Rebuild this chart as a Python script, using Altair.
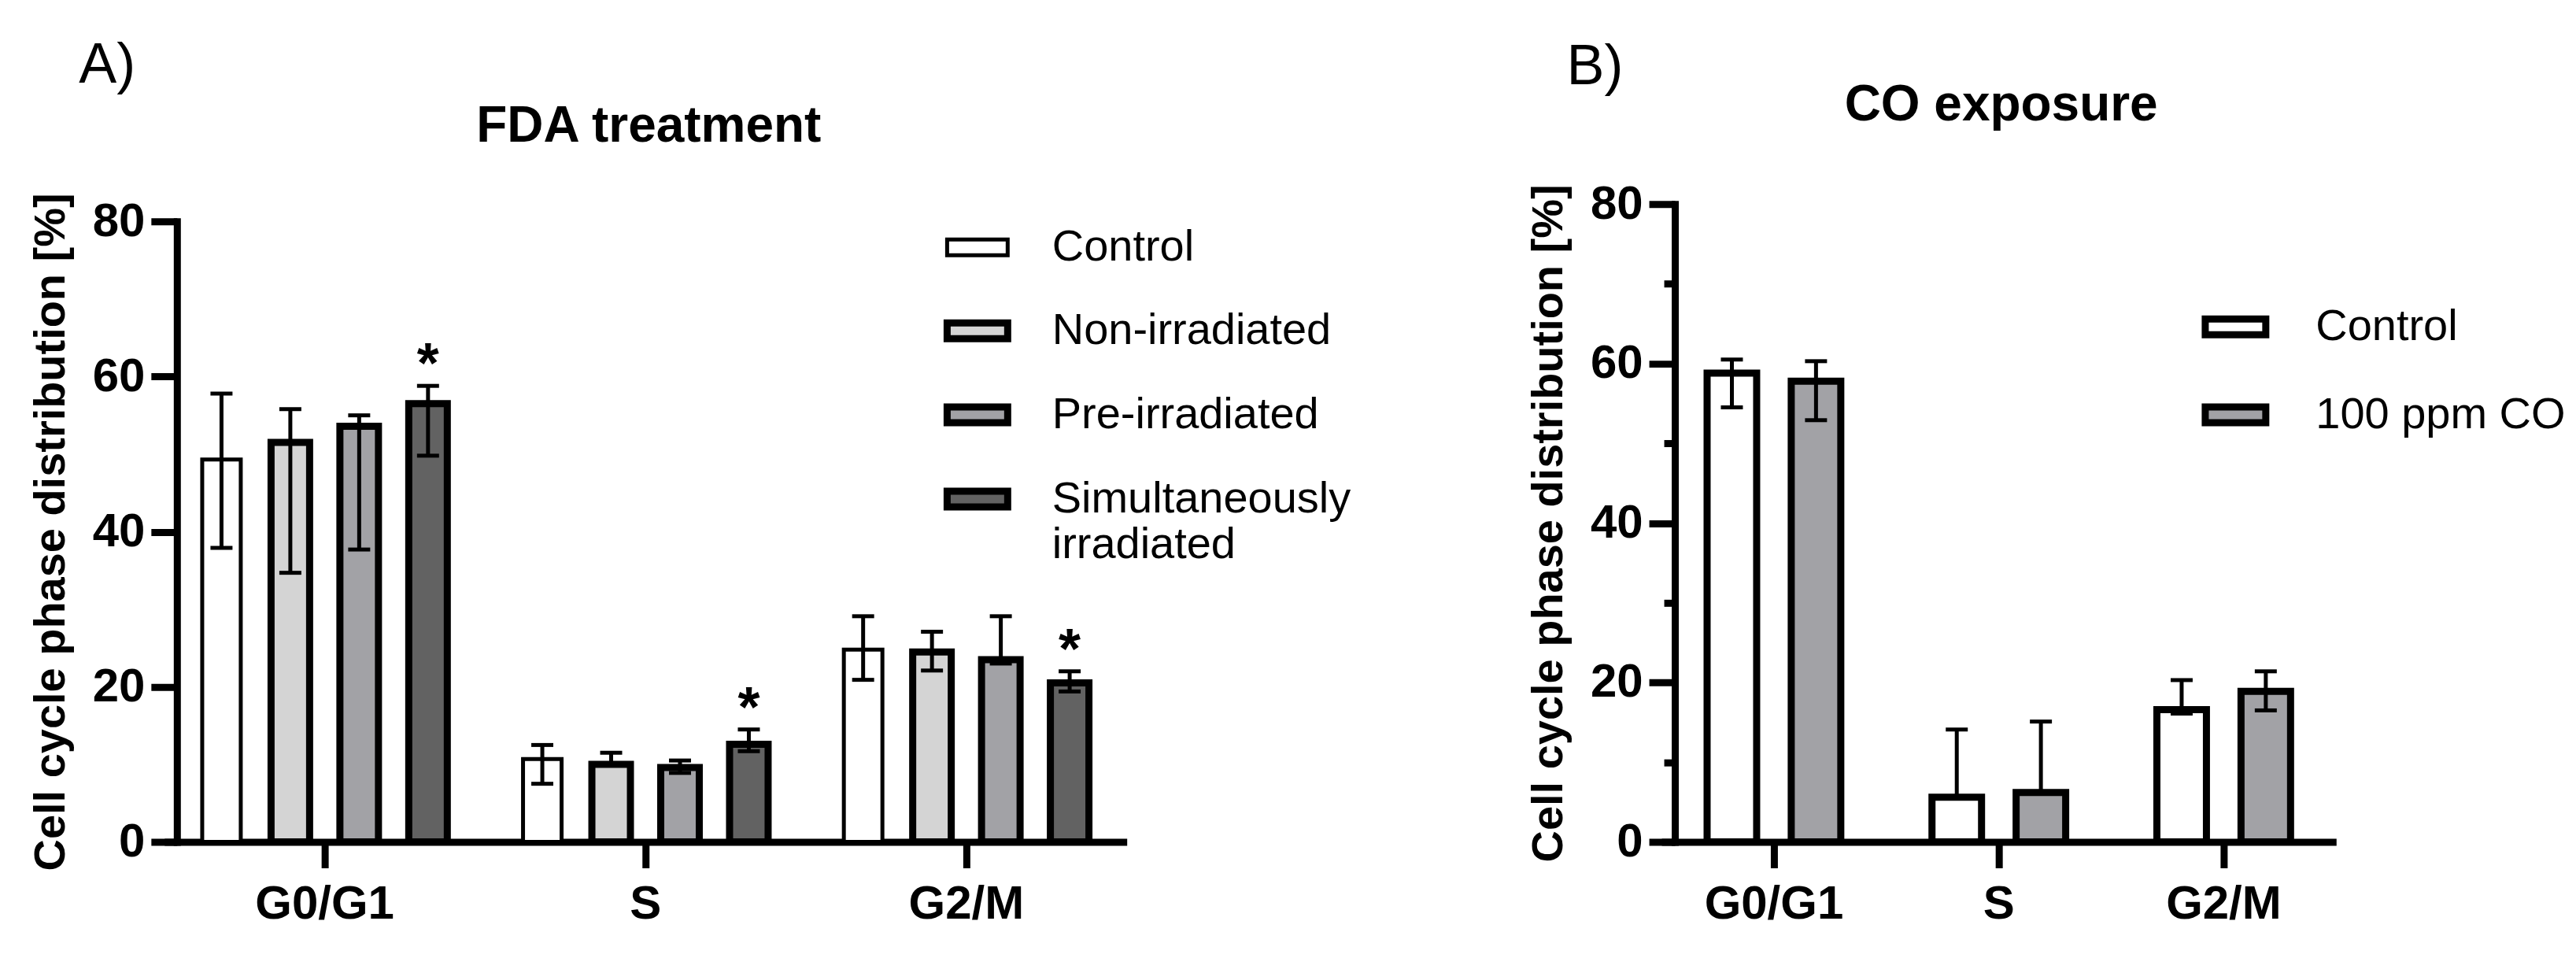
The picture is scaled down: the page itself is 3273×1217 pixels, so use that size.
import altair as alt
import pandas as pd

FONT = "Liberation Sans"

phases = ["G0/G1", "S", "G2/M"]

# ---------- Panel A: FDA treatment ----------
fda_groups = ["Control", "Non-irradiated", "Pre-irradiated", "Simultaneously irradiated"]
fda_colors = ["#ffffff", "#d4d4d4", "#a2a2a6", "#626262"]
fda_borders = [5, 9, 9, 9]
fda_control_mean = [49.3, 10.7, 24.8]
fda_control_low = [37.9, 7.5, 20.9]
fda_control_high = [57.8, 12.5, 29.1]
fda_nonirr_mean = [51.5, 10.0, 24.5]
fda_nonirr_low = [34.7, 10.0, 22.1]
fda_nonirr_high = [55.8, 11.5, 27.1]
fda_preirr_mean = [53.6, 9.6, 23.5]
fda_preirr_low = [37.7, 8.9, 23.0]
fda_preirr_high = [55.0, 10.5, 29.1]
fda_simirr_mean = [56.5, 12.6, 20.5]
fda_simirr_low = [49.8, 11.7, 19.4]
fda_simirr_high = [58.8, 14.5, 22.0]
fda_simirr_sig = ["*", "*", "*"]
no_sig = ["", "", ""]

# ---------- Panel B: CO exposure ----------
co_groups = ["Control", "100 ppm CO"]
co_colors = ["#ffffff", "#a2a2a6"]
co_borders = [9, 9]
co_control_mean = [58.8, 5.6, 16.6]
co_control_low = [54.5, 5.6, 16.1]
co_control_high = [60.5, 14.1, 20.3]
co_co_mean = [57.8, 6.2, 18.9]
co_co_low = [52.9, 6.2, 16.5]
co_co_high = [60.3, 15.1, 21.4]

y_title = "Cell cycle phase distribution [%]"


def make_df(groups, means, lows, highs, sigs):
    rows = []
    for g, m, lo, hi, s in zip(groups, means, lows, highs, sigs):
        for p, mv, lv, hv, sv in zip(phases, m, lo, hi, s):
            rows.append({"phase": p, "group": g, "mean": mv, "lo": lv, "hi": hv, "sig": sv})
    return pd.DataFrame(rows)


df_a = make_df(
    fda_groups,
    [fda_control_mean, fda_nonirr_mean, fda_preirr_mean, fda_simirr_mean],
    [fda_control_low, fda_nonirr_low, fda_preirr_low, fda_simirr_low],
    [fda_control_high, fda_nonirr_high, fda_preirr_high, fda_simirr_high],
    [no_sig, no_sig, no_sig, fda_simirr_sig],
)
df_b = make_df(
    co_groups,
    [co_control_mean, co_co_mean],
    [co_control_low, co_co_low],
    [co_control_high, co_co_high],
    [no_sig, no_sig],
)


def panel(df, groups, colors, borders, width, height, yrange, xrange, pin, pout,
          legend_x, legend_y, row_pad, label_off, title, minor, title_offset):
    xenc = alt.X(
        "phase:N", sort=phases,
        scale=alt.Scale(domain=phases, range=xrange, paddingInner=0, paddingOuter=0),
        axis=alt.Axis(title=None, labelFont=FONT, labelFontSize=60, labelFontWeight="bold",
                      labelColor="black", labelAngle=0, labelPadding=17, tickSize=33,
                      tickWidth=9, tickColor="black", domainColor="black", domainWidth=9),
    )
    xoff = alt.XOffset(
        "group:N", sort=groups,
        scale=alt.Scale(domain=groups, paddingInner=pin, paddingOuter=pout),
    )
    yscale = alt.Scale(domain=[0, 80], range=yrange, nice=False, zero=True)
    yaxis = alt.Axis(
        values=[0, 20, 40, 60, 80], title=y_title, titleFont=FONT, titleFontSize=56,
        titleFontWeight="bold", titleColor="black", titlePadding=24,
        labelFont=FONT, labelFontSize=60, labelFontWeight="bold", labelColor="black",
        labelPadding=8, tickSize=33, tickWidth=9, tickColor="black",
        domainColor="black", domainWidth=9, domainCap="square", grid=False,
        orient="left",
    )

    def legend():
        return alt.Legend(
            title=None, orient="none", legendX=legend_x, legendY=legend_y,
            symbolType="M-1,-0.26H1V0.26H-1Z", symbolSize=5929,
            symbolStrokeColor="black", symbolOpacity=1,
            labelFont=FONT, labelFontSize=56, labelColor="black", labelLimit=0,
            labelOffset=label_off, rowPadding=row_pad, padding=0, labelBaseline="middle",
            labelExpr="datum.label == 'Simultaneously irradiated' ? ['Simultaneously', 'irradiated'] : datum.label",
        )

    fill = alt.Fill("group:N", sort=groups,
                    scale=alt.Scale(domain=groups, range=colors), legend=legend())
    sw = alt.StrokeWidth("group:N", sort=groups,
                         scale=alt.Scale(type="ordinal", domain=groups, range=borders),
                         legend=legend())
    stroke = alt.Stroke("group:N", sort=groups,
                        scale=alt.Scale(domain=groups, range=["black"] * len(groups)),
                        legend=legend())

    base = alt.Chart(df)
    bars = base.mark_bar(opacity=1).encode(
        x=xenc, xOffset=xoff,
        y=alt.Y("mean:Q", scale=yscale, axis=yaxis),
        fill=fill, strokeWidth=sw, stroke=stroke,
    )
    if minor:
        rule_axis = alt.Axis(values=[10, 30, 50, 70], labels=False, domain=False,
                             tickSize=14, tickWidth=9, tickColor="black", title=None,
                             orient="left", grid=False)
    else:
        rule_axis = None
    rules = base.mark_rule(color="black", strokeWidth=5).encode(
        x=xenc, xOffset=xoff,
        y=alt.Y("lo:Q", scale=yscale, axis=rule_axis), y2="hi:Q",
    )
    cap_hi = base.mark_tick(color="black", thickness=5, size=28, opacity=1).encode(
        x=xenc, xOffset=xoff, y=alt.Y("hi:Q", scale=yscale, axis=None))
    cap_lo = base.mark_tick(color="black", thickness=5, size=28, opacity=1).encode(
        x=xenc, xOffset=xoff, y=alt.Y("lo:Q", scale=yscale, axis=None))
    stars = base.transform_filter("datum.sig != ''").mark_text(
        font=FONT, fontSize=72, fontWeight="bold", color="black",
        baseline="alphabetic", dy=-4,
    ).encode(x=xenc, xOffset=xoff, y=alt.Y("hi:Q", scale=yscale, axis=None),
             text="sig:N")
    layer = alt.layer(bars, rules, cap_hi, cap_lo, stars).properties(
        width=width, height=height,
        title=alt.Title(title, font=FONT, fontSize=64, fontWeight="bold", color="black",
                        anchor="middle", frame="group", offset=title_offset,
                        baseline="alphabetic"),
    ).resolve_axis(y="independent")
    return layer


panel_a = panel(df_a, fda_groups, fda_colors, fda_borders, 1200, 811, [811, 22],
                [-16, 1208], 0.44, 0.55, 975, 14, 35, 52, "FDA treatment", False, 1)
panel_b = panel(df_b, co_groups, co_colors, co_borders, 830, 811, [811, 0],
                [-17, 841], 0.411, 0.542, 670, 113, 40, 59, "CO exposure", True, 12)

wrap_a = alt.hconcat(panel_a, title=alt.Title(
    "A)", font=FONT, fontSize=72, fontWeight="normal", color="black", anchor="start",
    dx=64, offset=-48, baseline="alphabetic"))
wrap_b = alt.hconcat(panel_b, title=alt.Title(
    "B)", font=FONT, fontSize=72, fontWeight="normal", color="black", anchor="start",
    dx=51, offset=-77, baseline="alphabetic"))

chart = alt.hconcat(wrap_a, wrap_b, spacing=223).resolve_scale(
    fill="independent", strokeWidth="independent", stroke="independent",
    xOffset="independent", x="independent", y="independent",
).resolve_legend(fill="independent", strokeWidth="independent", stroke="independent").properties(
    padding={"left": 28, "top": 38, "right": 5, "bottom": 5},
    background="white",
).configure_view(stroke=None)

chart.save("out.html", embed_options={"renderer": "svg", "actions": False})
